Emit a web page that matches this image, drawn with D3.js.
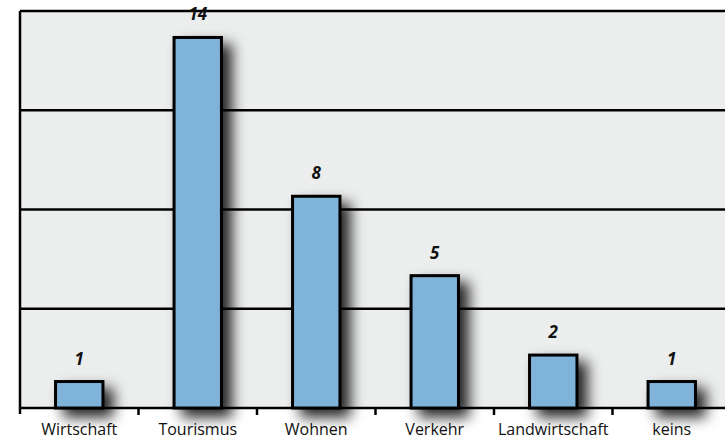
<!DOCTYPE html>
<html>
<head>
<meta charset="utf-8">
<script src="https://cdn.jsdelivr.net/npm/d3@7"></script>
<style>
  body { margin: 0; background: #fff; }
  .cat { font-family: "Open Sans", "Noto Sans", sans-serif; font-size: 16px; fill: #111; }
  .val { font-family: "Open Sans", "Noto Sans", sans-serif; font-size: 17px; font-weight: 700; font-style: italic; fill: #111; }
</style>
</head>
<body>
<svg id="chart" width="725" height="441"></svg>
<script>
// chart data
const categories = ["Wirtschaft", "Tourismus", "Wohnen", "Verkehr", "Landwirtschaft", "keins"];
const values = [1, 14, 8, 5, 2, 1];
const gridValues = [0, 3.75, 7.5, 11.25, 15];

let margin = { top: 11, right: -6, bottom: 33, left: 20 },
    width = 725 - margin.left - margin.right,
    height = 441 - margin.top - margin.bottom;

let svg = d3.select("#chart");

// drop shadow for the bars
let defs = svg.append("defs");
let shadow = defs.append("filter").attr("id", "shadow")
    .attr("x", "-60%").attr("y", "-50%").attr("width", "260%").attr("height", "240%");
shadow.append("feDropShadow").attr("dx", 9).attr("dy", 8)
    .attr("stdDeviation", 7).attr("flood-color", "#000").attr("flood-opacity", 0.85);

let g = svg.append("g").attr("transform", "translate(" + margin.left + "," + margin.top + ")");

let x = d3.scaleBand().domain(categories).range([0, width]).paddingInner(0.6).paddingOuter(0.3);
let xb = d3.scaleBand().domain(categories).range([0, width]); // for tick positions
let y = d3.scaleLinear().domain([0, 15]).range([height, 0]);

// plot background
g.append("rect").attr("x", 0).attr("y", 0).attr("width", width).attr("height", height)
    .attr("fill", "#eceeed");

// gridlines
g.selectAll(".grid").data(gridValues).enter().append("line")
    .attr("class", "grid")
    .attr("x1", 0).attr("x2", width)
    .attr("y1", d => y(d)).attr("y2", d => y(d))
    .attr("stroke", "#000").attr("stroke-width", 2.5);

// left axis line
g.append("line").attr("x1", 0).attr("x2", 0).attr("y1", 0).attr("y2", height + 6)
    .attr("stroke", "#000").attr("stroke-width", 2.5);

// category boundary ticks
g.selectAll(".tick").data(categories.slice(1)).enter().append("line")
    .attr("x1", d => xb(d)).attr("x2", d => xb(d))
    .attr("y1", height).attr("y2", height + 7)
    .attr("stroke", "#000").attr("stroke-width", 2.5);

// bars
g.selectAll(".bar").data(values).enter().append("rect")
    .attr("class", "bar")
    .attr("x", (d, i) => x(categories[i]))
    .attr("y", d => y(d))
    .attr("width", x.bandwidth())
    .attr("height", d => height - y(d))
    .attr("fill", "#7fb3da")
    .attr("stroke", "#000").attr("stroke-width", 3)
    .attr("filter", "url(#shadow)");

// value labels
g.selectAll(".val").data(values).enter().append("text")
    .attr("class", "val")
    .attr("x", (d, i) => x(categories[i]) + x.bandwidth() / 2)
    .attr("y", d => y(d) - 17)
    .attr("text-anchor", "middle")
    .text(d => d);

// category labels
g.selectAll(".cat").data(categories).enter().append("text")
    .attr("class", "cat")
    .attr("x", d => xb(d) + xb.bandwidth() / 2)
    .attr("y", height + 27)
    .attr("text-anchor", "middle")
    .text(d => d);
</script>
</body>
</html>
